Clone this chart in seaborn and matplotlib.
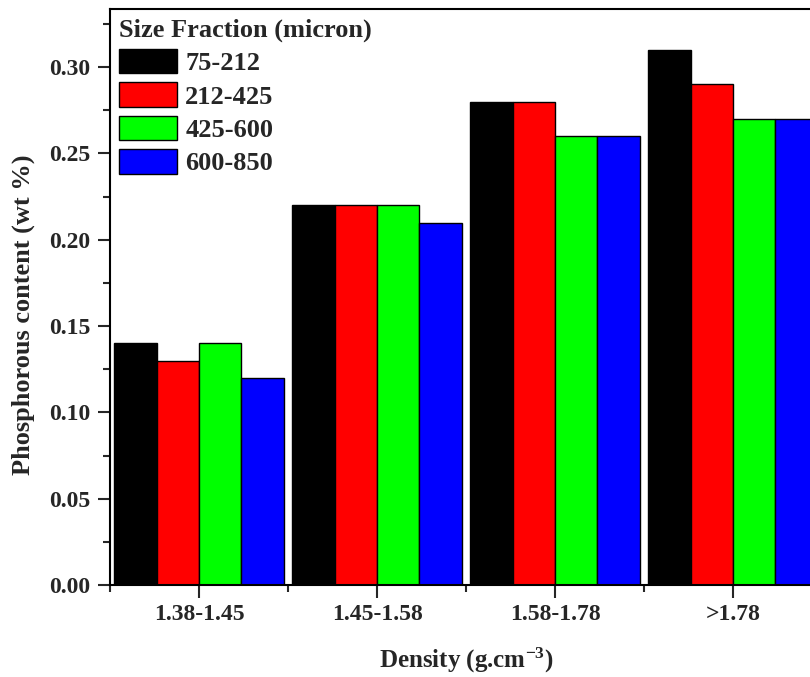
import matplotlib
matplotlib.use("Agg")
import matplotlib.pyplot as plt
import seaborn as sns
import pandas as pd
from matplotlib.ticker import MultipleLocator, FixedLocator, FormatStrFormatter

densities = ["1.38-1.45", "1.45-1.58", "1.58-1.78", ">1.78"]
fractions = ["75-212", "212-425", "425-600", "600-850"]
v_75_212 = [0.14, 0.22, 0.28, 0.31]
v_212_425 = [0.13, 0.22, 0.28, 0.29]
v_425_600 = [0.14, 0.22, 0.26, 0.27]
v_600_850 = [0.12, 0.21, 0.26, 0.27]
colors = ["#000000", "#ff0000", "#00ff00", "#0000ff"]

rows = []
for frac, vals in zip(fractions, [v_75_212, v_212_425, v_425_600, v_600_850]):
    for d, v in zip(densities, vals):
        rows.append({"Density": d, "Fraction": frac, "P": v})
df = pd.DataFrame(rows)

sns.set_style("ticks")
plt.rcParams["font.family"] = ["Liberation Serif", "DejaVu Serif"]
plt.rcParams["font.weight"] = "bold"
plt.rcParams["axes.labelweight"] = "bold"
plt.rcParams["mathtext.fontset"] = "custom"
plt.rcParams["mathtext.rm"] = "Liberation Serif:bold"
plt.rcParams["mathtext.bf"] = "Liberation Serif:bold"
plt.rcParams["mathtext.default"] = "bf"

fig = plt.figure(figsize=(8.1, 6.77), dpi=100)
ax = fig.add_axes([110 / 810, 92 / 677, 712 / 810, 576 / 677])

sns.barplot(data=df, x="Density", y="P", hue="Fraction", order=densities,
            hue_order=fractions, palette=colors, saturation=1, width=0.955,
            edgecolor="black", linewidth=1, errorbar=None, ax=ax)

ax.set_xlim(-0.5, 3.5)
ax.set_ylim(0, 0.3337)
ax.yaxis.set_major_locator(MultipleLocator(0.05))
ax.yaxis.set_minor_locator(MultipleLocator(0.025))
ax.yaxis.set_major_formatter(FormatStrFormatter("%.2f"))
ax.xaxis.set_minor_locator(FixedLocator([-0.5, 0.5, 1.5, 2.5, 3.5]))

for s in ax.spines.values():
    s.set_visible(True)
    s.set_linewidth(1.5)
    s.set_color("black")

ax.tick_params(axis="both", which="major", direction="out", length=9, width=1.5,
               labelsize=17, top=False, right=False)
ax.tick_params(axis="both", which="minor", direction="out", length=5, width=1.5,
               top=False, right=False)
ax.tick_params(axis="x", which="major", pad=5)
ax.tick_params(axis="y", which="major", pad=5)
for lbl in ax.get_xticklabels() + ax.get_yticklabels():
    lbl.set_fontweight("bold")

ax.set_xlabel("Density (g.cm$^{-3}$)", fontsize=18, fontweight="bold")
ax.set_ylabel("Phosphorous content (wt %)", fontsize=19, fontweight="bold")
ax.xaxis.set_label_coords((466 - 110) / 712, -(660 - 585) / 576)
ax.yaxis.set_label_coords(-(110 - 23) / 712, (585 - 315) / 576)
ax.xaxis.label.set_verticalalignment("center")
ax.yaxis.label.set_verticalalignment("center")

leg = ax.legend(title="Size Fraction (micron)", loc="upper left",
                bbox_to_anchor=(0.0, 1.0), frameon=False,
                prop={"size": 19, "weight": "bold"},
                title_fontproperties={"size": 19, "weight": "bold"},
                handlelength=2.2, handleheight=1.06, labelspacing=0.27,
                handletextpad=0.3, borderaxespad=0.1, borderpad=0.25)
leg._legend_box.align = "left"

fig.savefig("out.png", dpi=100)
